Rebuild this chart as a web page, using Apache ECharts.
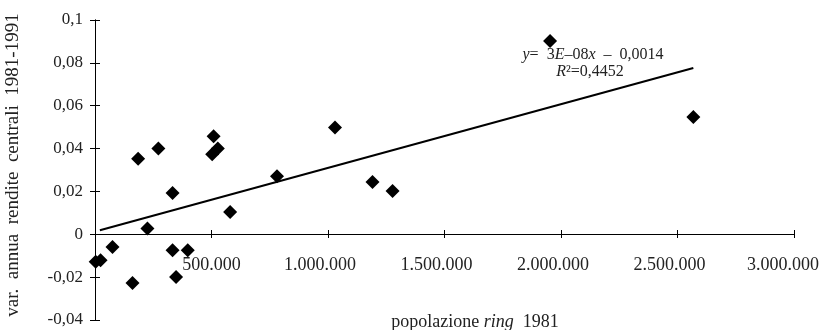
<!DOCTYPE html>
<html><head><meta charset="utf-8">
<script src="https://cdn.jsdelivr.net/npm/echarts@6/dist/echarts.min.js"></script>
<style>html,body{margin:0;padding:0;background:#fff}#c{width:824px;height:330px}</style>
</head><body><div id="c"></div>
<script>
// Data
const popRing1981 = [3000, 24000, 75000, 161000, 185000, 225000, 272000, 333000, 333000, 348000, 398000, 503000, 509000, 527000, 580000, 781000, 1030000, 1191000, 1277000, 1953000, 2568000];
const varRendite = [-0.0128, -0.0121, -0.0059, -0.0227, 0.0353, 0.0027, 0.0400, 0.0193, -0.0075, -0.0199, -0.0075, 0.0373, 0.0457, 0.0400, 0.0104, 0.0271, 0.0498, 0.0244, 0.0202, 0.0902, 0.0547];
const trendX = [21000, 2568000];
const trendY = [0.0019, 0.0776];
const xTicks = {min: 0, max: 3000000, interval: 500000};
const yTicks = {min: -0.04, max: 0.1, interval: 0.02};

const points = popRing1981.map((x, i) => [x, varRendite[i]]);
const trend = trendX.map((x, i) => [x, trendY[i]]);
const FONT = 'Liberation Serif';
const dotted = v => String(Math.round(v)).replace(/\B(?=(\d{3})+(?!\d))/g, '.');
const fmtX = v => {
  if (v === 0) return '';
  if (v >= xTicks.max) return '{e|' + dotted(v) + '}';
  if (v >= 1000000) return '{m|' + dotted(v) + '}';
  return '{n|' + dotted(v) + '}';
};
const fmtY = v => { const r = Math.round(v * 100) / 100; return String(r).replace('.', ','); };

// plot geometry
const G = {left: 95, right: 30, top: 20, bottom: 10};
const plotH = 330 - G.top - G.bottom;
// x axis sits at y = 0 of the value scale
const zeroOffset = -Math.round((0 - yTicks.min) / (yTicks.max - yTicks.min) * plotH);
const lblStyle = {fontFamily: FONT, fontSize: 18, color: '#222'};

const chart = echarts.init(document.getElementById('c'), null, {renderer: 'canvas'});
chart.setOption({
  animation: false,
  backgroundColor: '#fff',
  grid: Object.assign({containLabel: false, outerBoundsMode: 'none'}, G),
  xAxis: [{
    type: 'value', min: xTicks.min, max: xTicks.max, interval: xTicks.interval,
    position: 'bottom', offset: zeroOffset,
    axisLine: {onZero: false, lineStyle: {color: '#000', width: 1}},
    axisTick: {show: true, inside: false, length: 4, lineStyle: {color: '#000'}},
    axisLabel: {formatter: fmtX, margin: 22, color: '#222', fontFamily: FONT, fontSize: 18, showMaxLabel: true,
      rich: {
        n: Object.assign({}, lblStyle),
        m: Object.assign({padding: [0, 16, 0, 0]}, lblStyle),
        e: Object.assign({padding: [0, 22, 0, 0]}, lblStyle)
      }},
    splitLine: {show: false}
  }, {
    type: 'value', min: xTicks.min, max: xTicks.max, interval: xTicks.interval,
    position: 'bottom', offset: zeroOffset,
    axisLine: {onZero: false, lineStyle: {color: '#000', width: 1}},
    axisTick: {show: true, inside: true, length: 4, lineStyle: {color: '#000'}},
    axisLabel: {show: false}, splitLine: {show: false}
  }],
  yAxis: [{
    type: 'value', min: yTicks.min, max: yTicks.max, interval: yTicks.interval,
    axisLine: {show: true, lineStyle: {color: '#000', width: 1}},
    axisTick: {show: true, inside: false, length: 5, lineStyle: {color: '#000'}},
    axisLabel: {formatter: fmtY, margin: 12, color: '#222', fontFamily: FONT, fontSize: 17},
    splitLine: {show: false}
  }, {
    type: 'value', min: yTicks.min, max: yTicks.max, interval: yTicks.interval, position: 'left',
    axisLine: {show: true, lineStyle: {color: '#000', width: 1}},
    axisTick: {show: true, inside: true, length: 5, lineStyle: {color: '#000'}},
    axisLabel: {show: false}, splitLine: {show: false}
  }],
  series: [{
    type: 'line', data: trend, showSymbol: false, symbol: 'none',
    lineStyle: {color: '#000', width: 2}, z: 2
  }, {
    type: 'scatter', data: points, symbol: 'diamond', symbolSize: 14,
    itemStyle: {color: '#000', opacity: 1}, z: 3
  }],
  graphic: [{
    type: 'text',
    style: {
      text: '{i|y}=  3{i|E}–08{i|x}  –  0,0014', x: 593, y: 55, align: 'center', verticalAlign: 'middle',
      fontFamily: FONT, fontSize: 16, fill: '#222',
      rich: {i: {fontStyle: 'italic', fontFamily: FONT, fontSize: 16, fill: '#222'}}
    }
  }, {
    type: 'text',
    style: {
      text: '{i|R}²=0,4452', x: 590, y: 72, align: 'center', verticalAlign: 'middle',
      fontFamily: FONT, fontSize: 16, fill: '#222',
      rich: {i: {fontStyle: 'italic', fontFamily: FONT, fontSize: 16, fill: '#222'}}
    }
  }, {
    type: 'text',
    style: {
      text: 'popolazione {i|ring}  1981', x: 475, y: 322, align: 'center', verticalAlign: 'middle',
      fontFamily: FONT, fontSize: 18, fill: '#222',
      rich: {i: {fontStyle: 'italic', fontFamily: FONT, fontSize: 18, fill: '#222'}}
    }
  }, {
    type: 'text', x: 13, y: 165, rotation: Math.PI / 2,
    style: {
      text: 'var.  annua  rendite  centrali  1981-1991', x: 0, y: 0, align: 'center', verticalAlign: 'middle',
      fontFamily: FONT, fontSize: 19, fill: '#222'
    }
  }]
});
</script></body></html>
